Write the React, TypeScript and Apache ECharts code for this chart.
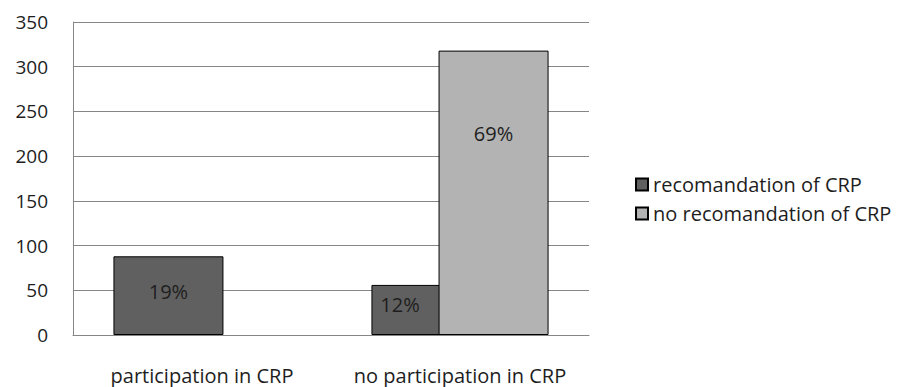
import React, { useEffect, useRef } from "react";
import * as echarts from "echarts";

const categories = ["participation in CRP", "no participation in CRP"];
const seriesNames = ["recomandation of CRP", "no recomandation of CRP"];
const recommended = [88, 56];
const notRecommended: (number | null)[] = [null, 318];
const yTicks = { min: 0, max: 350, interval: 50 };

const FONT = "'Open Sans', Lato, sans-serif";
const TEXT = "#1e1e1e";

export default function App() {
  const ref = useRef<HTMLDivElement>(null);

  useEffect(() => {
    if (!ref.current) return;
    const chart = echarts.init(ref.current, null, { renderer: "svg" });
    const total =
      recommended.reduce((a, b) => a + b, 0) +
      notRecommended.reduce((a: number, b) => a + (b ?? 0), 0);
    const pct = (v: number) => `${Math.round((v / total) * 100)}%`;

    const labelBase = {
      show: true,
      color: TEXT,
      fontFamily: FONT,
      fontSize: 20,
      align: "center" as const,
      verticalAlign: "middle" as const,
      formatter: (p: any) => pct(p.value),
    };

    chart.setOption({
      animation: false,
      backgroundColor: "#ffffff",
      grid: { left: 73, right: 319, top: 22, bottom: 52 },
      legend: {
        orient: "vertical",
        left: 630,
        top: 169,
        itemWidth: 12,
        itemHeight: 12,
        itemGap: 8,
        icon: "rect",
        textStyle: { color: TEXT, fontFamily: FONT, fontSize: 20, lineHeight: 21 },
        data: seriesNames,
      },
      xAxis: {
        type: "category",
        data: categories,
        axisLine: { lineStyle: { color: "#868686", width: 1 } },
        axisTick: { show: false },
        axisLabel: {
          interval: 0,
          color: TEXT,
          fontFamily: FONT,
          fontSize: 20,
          lineHeight: 22,
          margin: 29,
        },
      },
      yAxis: {
        type: "value",
        min: yTicks.min,
        max: yTicks.max,
        interval: yTicks.interval,
        axisLine: { show: true, lineStyle: { color: "#868686", width: 1 } },
        axisTick: { show: false },
        splitLine: { lineStyle: { color: "#868686", width: 1 } },
        axisLabel: { color: TEXT, fontFamily: FONT, fontSize: 19, margin: 25 },
      },
      series: [
        {
          name: seriesNames[0],
          type: "bar",
          barWidth: 110,
          barGap: "-39%",
          itemStyle: { color: "#606060", borderColor: "#000000", borderWidth: 1 },
          data: recommended.map((v, i) => ({
            value: v,
            label: { ...labelBase, position: i === 0 ? ["50%", "45%"] : ["26%", "40%"] },
          })),
        },
        {
          name: seriesNames[1],
          type: "bar",
          barWidth: 110,
          barGap: "-39%",
          itemStyle: { color: "#b3b3b3", borderColor: "#000000", borderWidth: 1 },
          data: notRecommended.map((v) =>
            v == null
              ? "-"
              : { value: v, label: { ...labelBase, position: ["50%", "29%"] } }
          ),
        },
      ],
    });
    return () => chart.dispose();
  }, []);

  return (
    <div
      ref={ref}
      style={{ position: "fixed", left: 0, top: 0, width: 908, height: 387 }}
    />
  );
}
